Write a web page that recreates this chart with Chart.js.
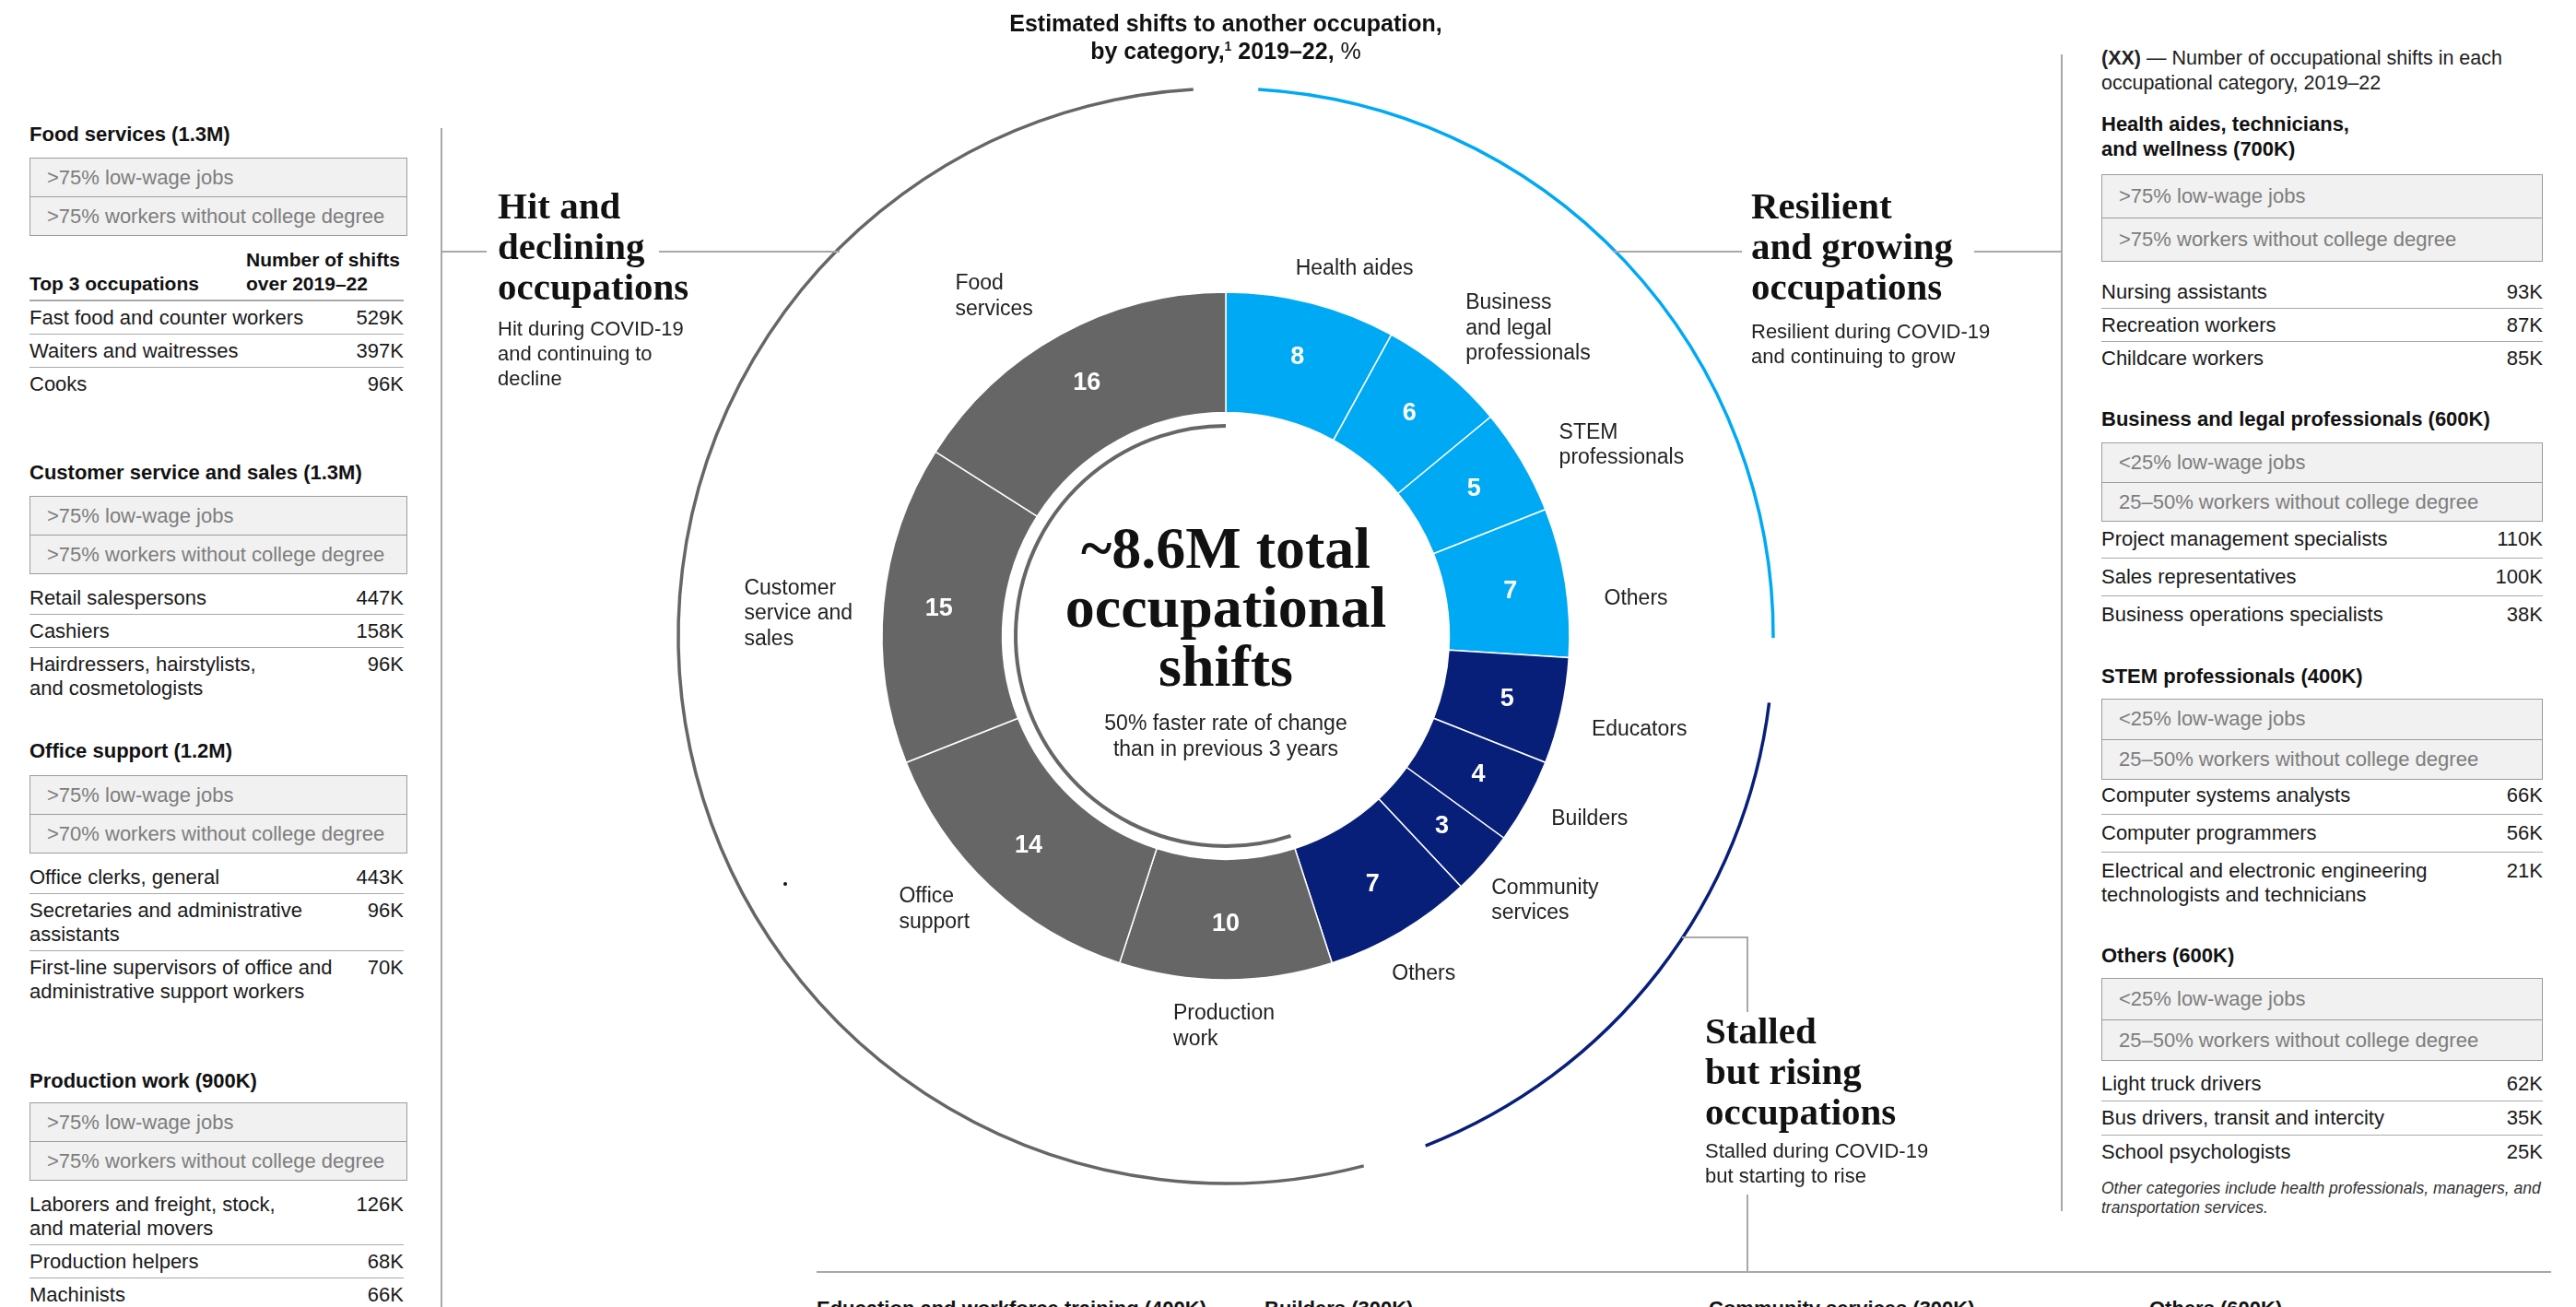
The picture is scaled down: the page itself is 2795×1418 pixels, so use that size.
<!DOCTYPE html>
<html>
<head>
<meta charset="utf-8">
<title>Estimated shifts to another occupation</title>
<script src="https://cdn.jsdelivr.net/npm/chart.js@4.4.1/dist/chart.umd.min.js"></script>
<style>
  html, body { margin: 0; padding: 0; background: #fff; }
  body { width: 2795px; height: 1418px; position: relative; overflow: hidden;
         font-family: "Liberation Sans", Arial, sans-serif; color: #1a1a1a; }
  .a { position: absolute; }
  .head { font-weight: bold; font-size: 22px; line-height: 27px; color: #111; }
  .box { border: 1.5px solid #9c9c9c; background: #f1f1f1; box-sizing: border-box; }
  .trait { color: #7d7d7d; font-size: 22px; padding-left: 18px; }
  .trait + .trait { border-top: 1.5px solid #9c9c9c; }
  .row { display: flex; justify-content: space-between; font-size: 22px; line-height: 26px; }
  .row + .row { border-top: 1.5px solid #aaa; }
  .row span:first-child { white-space: pre-line; }
  .big { font-family: "Liberation Serif", serif; font-weight: bold; font-size: 41px; line-height: 44px; color: #111; }
  .sub { font-size: 22px; line-height: 27px; color: #222; }
  .ln { background: #a8a8a8; }
</style>
</head>
<body>
<canvas id="donut" width="1300" height="1300" style="position:absolute;left:680px;top:40px"></canvas>
<script>
// donut: share of occupational shifts by category, %, clockwise from 12 o'clock
const categories = ['Health aides', 'Business and legal professionals', 'STEM professionals', 'Others',
  'Educators', 'Builders', 'Community services', 'Others',
  'Production work', 'Office support', 'Customer service and sales', 'Food services'];
const labelLines = [['Health aides'], ['Business', 'and legal', 'professionals'], ['STEM', 'professionals'], ['Others'],
  ['Educators'], ['Builders'], ['Community', 'services'], ['Others'],
  ['Production', 'work'], ['Office', 'support'], ['Customer', 'service and', 'sales'], ['Food', 'services']];
const shares = [8, 6, 5, 7, 5, 4, 3, 7, 10, 14, 15, 16];
const groupIndex = [0, 0, 0, 0, 1, 1, 1, 1, 2, 2, 2, 2];
const groupNames = ['Resilient and growing occupations', 'Stalled but rising occupations', 'Hit and declining occupations'];
const groupColors = ['#00a9f4', '#081f7a', '#666666'];

// side panels
const leftTitles = ['Food services (1.3M)', 'Customer service and sales (1.3M)', 'Office support (1.2M)', 'Production work (900K)'];
const leftTraits = [
  ['>75% low-wage jobs', '>75% workers without college degree'],
  ['>75% low-wage jobs', '>75% workers without college degree'],
  ['>75% low-wage jobs', '>70% workers without college degree'],
  ['>75% low-wage jobs', '>75% workers without college degree']];
const leftJobs = [
  ['Fast food and counter workers', 'Waiters and waitresses', 'Cooks'],
  ['Retail salespersons', 'Cashiers', 'Hairdressers, hairstylists,\nand cosmetologists'],
  ['Office clerks, general', 'Secretaries and administrative\nassistants', 'First-line supervisors of office and\nadministrative support workers'],
  ['Laborers and freight, stock,\nand material movers', 'Production helpers', 'Machinists']];
const leftShifts = [['529K', '397K', '96K'], ['447K', '158K', '96K'], ['443K', '96K', '70K'], ['126K', '68K', '66K']];

const rightTitles = ['Health aides, technicians,<br>and wellness (700K)', 'Business and legal professionals (600K)',
  'STEM professionals (400K)', 'Others (600K)'];
const rightTraits = [
  ['>75% low-wage jobs', '>75% workers without college degree'],
  ['<25% low-wage jobs', '25–50% workers without college degree'],
  ['<25% low-wage jobs', '25–50% workers without college degree'],
  ['<25% low-wage jobs', '25–50% workers without college degree']];
const rightJobs = [
  ['Nursing assistants', 'Recreation workers', 'Childcare workers'],
  ['Project management specialists', 'Sales representatives', 'Business operations specialists'],
  ['Computer systems analysts', 'Computer programmers', 'Electrical and electronic engineering\ntechnologists and technicians'],
  ['Light truck drivers', 'Bus drivers, transit and intercity', 'School psychologists']];
const rightShifts = [['93K', '87K', '85K'], ['110K', '100K', '38K'], ['66K', '56K', '21K'], ['62K', '35K', '25K']];

const bottomTitles = ['Education and workforce training (400K)', 'Builders (300K)', 'Community services (300K)', 'Others (600K)'];

// hand placement of the category labels around the ring (px)
const labelNudge = [[22, 11], [24, 13], [19, 15], [7, 26], [-1, 9], [0, -5], [-4, -2], [-11, 3],
  [-2, -13], [-10, -22], [2, 18], [-34, 14]];

// ---------- page layout ----------
function div(cls, css, html) {
  const d = document.createElement('div');
  d.className = cls;
  for (const k in css) d.style[k] = typeof css[k] === 'number' ? css[k] + 'px' : css[k];
  if (html !== undefined) d.innerHTML = html;
  document.body.appendChild(d);
  return d;
}

function addBlock(x, w, rowW, L, title, traits, jobs, shifts) {
  div('a head', { left: x, top: L.head, width: w + 40 }, title);
  const box = div('a box', { left: x, top: L.box, width: w });
  traits.forEach(t => {
    const d = document.createElement('div');
    d.className = 'trait';
    d.style.height = d.style.lineHeight = L.th + 'px';
    d.textContent = t;
    box.appendChild(d);
  });
  const rows = div('a', { left: x, top: L.rows, width: rowW });
  jobs.forEach((j, k) => {
    const r = document.createElement('div');
    r.className = 'row';
    r.style.padding = L.pad + 'px 0';
    const a = document.createElement('span'); a.textContent = j;
    const b = document.createElement('span'); b.textContent = shifts[k];
    r.appendChild(a); r.appendChild(b);
    rows.appendChild(r);
  });
}

const leftLayout = [
  { head: 132, box: 171, th: 41, rows: 327, pad: 4.5 },
  { head: 499, box: 538, th: 41, rows: 631, pad: 4.5 },
  { head: 801, box: 841, th: 41, rows: 934, pad: 4.5 },
  { head: 1159, box: 1196, th: 41, rows: 1289, pad: 4.5 }];
const rightLayout = [
  { head: 121, box: 189, th: 46, rows: 299, pad: 4.5 },
  { head: 441, box: 480, th: 41.5, rows: 565, pad: 7 },
  { head: 720, box: 758, th: 42.5, rows: 843, pad: 7 },
  { head: 1023, box: 1061, th: 43.5, rows: 1158, pad: 5 }];

leftTitles.forEach((t, i) => addBlock(32, 410, 406, leftLayout[i], t, leftTraits[i], leftJobs[i], leftShifts[i]));
rightTitles.forEach((t, i) => addBlock(2280, 479, 479, rightLayout[i], t, rightTraits[i], rightJobs[i], rightShifts[i]));

// food services table header
div('a head', { left: 32, top: 295, fontSize: 21, lineHeight: 26 }, 'Top 3 occupations');
div('a head', { left: 267, top: 269, fontSize: 21, lineHeight: 26 }, 'Number of shifts<br>over 2019–22');
div('a ln', { left: 32, top: 325, width: 406, height: 1.5 });

// right legend + footnote
div('a', { left: 2280, top: 50, width: 480, fontSize: 21.5, lineHeight: 27, color: '#222' },
  '<b>(XX)</b> — Number of occupational shifts in each occupational category, 2019–22');
div('a', { left: 2280, top: 1279, width: 500, fontSize: 17.5, lineHeight: 21, fontStyle: 'italic', color: '#333' },
  'Other categories include health professionals, managers, and<br>transportation services.');

// chart title
div('a', { left: 930, top: 10, width: 800, textAlign: 'center', fontWeight: 'bold', fontSize: 25, lineHeight: 30, color: '#111' },
  'Estimated shifts to another occupation,<br>by category,<sup style="font-size:14px;line-height:0">1</sup> 2019–22, <span style="font-weight:normal">%</span>');

// group titles
div('a big', { left: 540, top: 201 }, 'Hit and<br>declining<br>occupations');
div('a sub', { left: 540, top: 343 }, 'Hit during COVID-19<br>and continuing to<br>decline');
div('a big', { left: 1900, top: 201 }, 'Resilient<br>and growing<br>occupations');
div('a sub', { left: 1900, top: 346 }, 'Resilient during COVID-19<br>and continuing to grow');
div('a big', { left: 1850, top: 1096 }, 'Stalled<br>but rising<br>occupations');
div('a sub', { left: 1850, top: 1235 }, 'Stalled during COVID-19<br>but starting to rise');

// connector lines
div('a ln', { left: 478, top: 139, width: 1.5, height: 1279 });
div('a ln', { left: 478, top: 272, width: 50, height: 1.5 });
div('a ln', { left: 715, top: 272, width: 196, height: 1.5 });
div('a ln', { left: 1750, top: 272, width: 140, height: 1.5 });
div('a ln', { left: 2142, top: 272, width: 95, height: 1.5 });
div('a ln', { left: 2236, top: 59, width: 1.5, height: 1255 });
div('a ln', { left: 1825, top: 1016, width: 71, height: 1.5 });
div('a ln', { left: 1895, top: 1016, width: 1.5, height: 82 });
div('a ln', { left: 1895, top: 1296, width: 1.5, height: 84 });
div('a ln', { left: 886, top: 1379, width: 1882, height: 2 });
div('a', { left: 850, top: 957, width: 4, height: 4, background: '#111', borderRadius: '2px' });

// bottom row (cut off by the frame)
[886, 1372, 1854, 2332].forEach((x, i) => div('a head', { left: x, top: 1406 }, bottomTitles[i]));

// ---------- chart ----------
const rings = {
  id: 'rings',
  afterDatasetsDraw(chart) {
    const ctx = chart.ctx;
    const arcs = chart.getDatasetMeta(0).data;
    const cx = arcs[0].x, cy = arcs[0].y;
    const rOut = arcs[0].outerRadius, rIn = arcs[0].innerRadius;
    const gap = 3.4 * Math.PI / 180;
    ctx.save();
    // outer group arcs and inner arc
    groupNames.forEach((g, gi) => {
      const idx = groupIndex.map((v, i) => v === gi ? i : -1).filter(i => i >= 0);
      const a0 = arcs[idx[0]].startAngle, a1 = arcs[idx[idx.length - 1]].endAngle;
      ctx.beginPath();
      ctx.arc(cx, cy, 594, a0 + gap, a1 - gap);
      ctx.strokeStyle = groupColors[gi];
      ctx.lineWidth = 3.5;
      ctx.stroke();
      if (gi === 2) {
        ctx.beginPath();
        ctx.arc(cx, cy, 228, a0, a1);
        ctx.strokeStyle = '#666666';
        ctx.lineWidth = 4;
        ctx.stroke();
      }
    });
    // values inside the ring
    ctx.fillStyle = '#fff';
    ctx.font = 'bold 27px "Liberation Sans"';
    ctx.textAlign = 'center';
    ctx.textBaseline = 'middle';
    arcs.forEach((arc, i) => {
      const m = (arc.startAngle + arc.endAngle) / 2;
      const r = (rOut + rIn) / 2 + 5;
      ctx.fillText(String(shares[i]), cx + r * Math.cos(m), cy + r * Math.sin(m));
    });
    // category labels
    ctx.fillStyle = '#222';
    ctx.font = '23px "Liberation Sans"';
    ctx.textAlign = 'left';
    arcs.forEach((arc, i) => {
      const m = (arc.startAngle + arc.endAngle) / 2;
      const lines = labelLines[i];
      const w = Math.max(...lines.map(t => ctx.measureText(t).width));
      const h = lines.length * 27.5;
      const ax = cx + (rOut + 36) * Math.cos(m);
      const ay = cy + (rOut + 36) * Math.sin(m);
      const left = ax - w * (1 - Math.cos(m)) / 2 + labelNudge[i][0];
      const top = ay - h * (1 - Math.sin(m)) / 2 + labelNudge[i][1];
      lines.forEach((t, k) => ctx.fillText(t, left, top + 14 + k * 27.5));
    });
    // centre text
    ctx.fillStyle = '#111';
    ctx.textAlign = 'center';
    ctx.font = 'bold 64px "Liberation Serif"';
    ['~8.6M total', 'occupational', 'shifts'].forEach((t, k) => ctx.fillText(t, cx, cy - 91 + k * 64));
    ctx.fillStyle = '#222';
    ctx.font = '23px "Liberation Sans"';
    ctx.fillText('50% faster rate of change', cx, cy + 96);
    ctx.fillText('than in previous 3 years', cx, cy + 124);
    ctx.restore();
  }
};

new Chart(document.getElementById('donut'), {
  type: 'doughnut',
  data: {
    labels: categories,
    datasets: [{
      data: shares,
      backgroundColor: shares.map((v, i) => groupColors[groupIndex[i]]),
      borderColor: '#ffffff',
      borderWidth: 1.5
    }]
  },
  options: {
    responsive: false,
    animation: false,
    radius: 373,
    cutout: '65%',
    plugins: { legend: { display: false }, tooltip: { enabled: false } }
  },
  plugins: [rings]
});
</script>
</body>
</html>
